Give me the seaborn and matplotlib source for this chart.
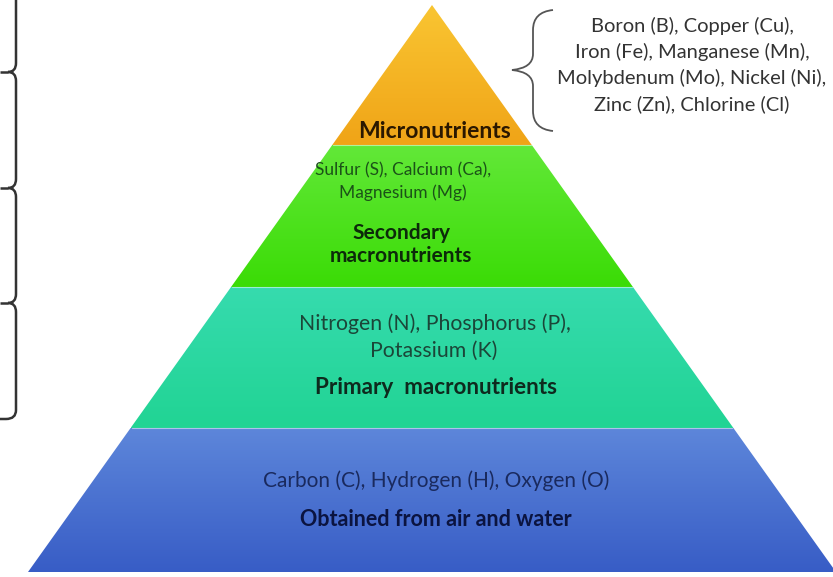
import numpy as np
import seaborn as sns
import matplotlib.pyplot as plt
from matplotlib.patches import Polygon
from matplotlib.path import Path
from matplotlib.patches import PathPatch

sns.set_theme(style='white')
plt.rcParams['font.family'] = ['Lato', 'DejaVu Sans']

# tiers, top to bottom
tier_titles = ['Micronutrients', 'Secondary', 'macronutrients',
               'Primary  macronutrients', 'Obtained from air and water']
tier_elements = ['Sulfur (S), Calcium (Ca),', 'Magnesium (Mg)',
                 'Nitrogen (N), Phosphorus (P),', 'Potassium (K)',
                 'Carbon (C), Hydrogen (H), Oxygen (O)']
micro_list = ['Boron (B), Copper (Cu),', 'Iron (Fe), Manganese (Mn),',
              'Molybdenum (Mo), Nickel (Ni),', 'Zinc (Zn), Chlorine (Cl)']
tier_colors = [['#f9c532', '#f0a417'], ['#62e838', '#3bdc06'],
               ['#36dbae', '#21d494'], ['#5d86da', '#385dc6']]

# layout (pixels)
W, H = 833, 577
apex = (432, 5)
base_y, base_l, base_r = 572, 28, 836
bounds = [5, 145, 287, 428, 572]

fig = plt.figure(figsize=(W / 100, H / 100), dpi=100)
ax = fig.add_axes([0, 0, 1, 1])
ax.set_xlim(0, W)
ax.set_ylim(H, 0)
ax.axis('off')


def edge_x(y):
    t = (y - apex[1]) / (base_y - apex[1])
    return apex[0] - t * (apex[0] - base_l), apex[0] + t * (base_r - apex[0])


for i in range(4):
    y0, y1 = bounds[i], bounds[i + 1]
    l0, r0 = edge_x(y0)
    l1, r1 = edge_x(y1)
    poly = Polygon([(l0, y0), (r0, y0), (r1, y1), (l1, y1)], closed=True,
                   facecolor='none', edgecolor='none')
    ax.add_patch(poly)
    cmap = sns.blend_palette(tier_colors[i], as_cmap=True)
    grad = np.linspace(0, 1, 100).reshape(-1, 1)
    im = ax.imshow(grad, cmap=cmap, aspect='auto',
                   extent=(l1, r1, y1, y0), origin='upper', zorder=1)
    im.set_clip_path(poly)
    if i > 0:
        ax.plot([l0 + 1, r0 - 1], [y0, y0], color='white', lw=0.8, alpha=0.5, zorder=2)

# tier texts
kw = dict(ha='center', va='center', zorder=3)
ax.text(435, 131, tier_titles[0], fontsize=16.5, fontweight='bold', color='#2b1800', **kw)
ax.text(403, 170, tier_elements[0], fontsize=12.5, color='#1b5218', **kw)
ax.text(403, 193, tier_elements[1], fontsize=12.5, color='#1b5218', **kw)
ax.text(401, 233, tier_titles[1], fontsize=15, fontweight='bold', color='#0c2a0a', **kw)
ax.text(401, 256, tier_titles[2], fontsize=15, fontweight='bold', color='#0c2a0a', **kw)
ax.text(435, 324, tier_elements[2], fontsize=15.3, color='#1b4638', **kw)
ax.text(434, 351, tier_elements[3], fontsize=15.3, color='#1b4638', **kw)
ax.text(436, 388, tier_titles[3], fontsize=16.2, fontweight='bold', color='#0e2a1e', **kw)
ax.text(436, 481, tier_elements[4], fontsize=15, color='#1a2a5e', **kw)
ax.text(436, 519, tier_titles[4], fontsize=15.5, fontweight='bold', color='#0b1440', **kw)

# micronutrient list on the right
for k, line in enumerate(micro_list):
    ax.text(692, 26 + k * 26, line, ha='center', va='center',
            fontsize=14.5, color='#333333')

# right curly brace
cx, cy, top, bot = 512, 70, 10, 131
xv = 533
verts = [(553, top), (533, top + 2), (xv, top + 20),
         (xv, cy - 16), (xv, cy - 2), (cx, cy),
         (xv, cy + 2), (xv, cy + 16),
         (xv, bot - 20), (533, bot - 2), (553, bot)]
codes = [Path.MOVETO, Path.CURVE3, Path.CURVE3,
         Path.LINETO, Path.CURVE3, Path.CURVE3,
         Path.CURVE3, Path.CURVE3,
         Path.LINETO, Path.CURVE3, Path.CURVE3]
ax.add_patch(PathPatch(Path(verts, codes), fc='none', ec='#555555', lw=1.3))

# left side brackets (cut off by the image edge)
xl = 16
cusps = [72, 188, 303]
bottom = 419
segs = [-10] + cusps + [bottom]
for j in range(len(segs) - 1):
    ya, yb = segs[j], segs[j + 1]
    v, c = [], []
    if j == 0:
        v += [(xl, ya)]
        c += [Path.MOVETO]
    else:
        v += [(8, ya), (xl, ya), (xl, ya + 9)]
        c += [Path.MOVETO, Path.CURVE3, Path.CURVE3]
    if j == len(segs) - 2:
        v += [(xl, yb - 9), (xl, yb), (6, yb), (0, yb)]
        c += [Path.LINETO, Path.CURVE3, Path.CURVE3, Path.LINETO]
    else:
        v += [(xl, yb - 9), (xl, yb), (8, yb)]
        c += [Path.LINETO, Path.CURVE3, Path.CURVE3]
    ax.add_patch(PathPatch(Path(v, c), fc='none', ec='#333333', lw=1.8))
for yc in cusps:
    ax.plot([0, 8], [yc, yc], color='#333333', lw=1.8, solid_capstyle='butt')

fig.savefig('out.png', dpi=100)
